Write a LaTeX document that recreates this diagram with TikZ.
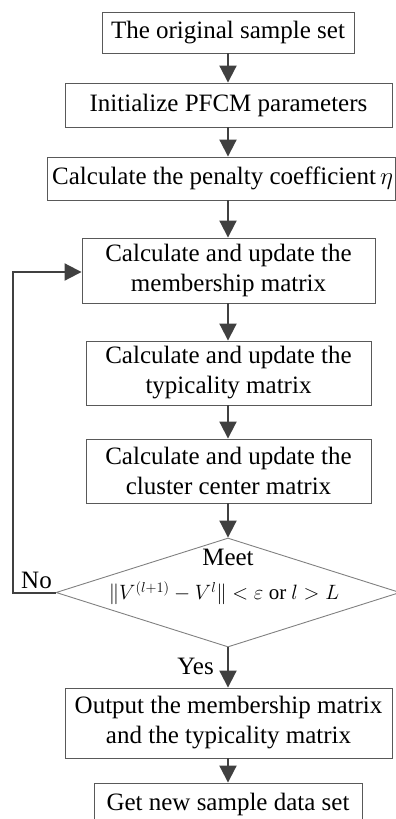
\documentclass[tikz,border=0pt]{standalone}
\usepackage{fontspec}
\setmainfont{Liberation Serif}
\usetikzlibrary{arrows.meta,shapes.geometric}
\begin{document}
\begin{tikzpicture}[x=1pt,y=1pt,
  box/.style={draw=black!65,line width=0.9pt,inner sep=0pt,align=center,font=\fontsize{25}{30}\selectfont},
  arr/.style={draw=black!75,line width=2pt,-{Triangle[length=17pt,width=17pt]}},
  lbl/.style={font=\fontsize{25}{28}\selectfont,inner sep=0pt}]
\useasboundingbox (0,0) rectangle (396,-819);
\node[box,minimum width=252pt,minimum height=41pt] (b1) at (228,-32.5) {The original sample set};
\node[box,minimum width=327pt,minimum height=44pt] (b2) at (228.5,-105) {Initialize PFCM parameters};
\node[draw=black!65,line width=0.9pt,minimum width=348pt,minimum height=43pt,inner sep=0pt] (b3) at (221.5,-178.5) {};
\node[lbl,anchor=west] (t3) at (52,-178.5) {Calculate the penalty coefficient\,${\eta}$};
\node[box,minimum width=293pt,minimum height=65pt] (b4) at (228.5,-270.5) {Calculate and update the\\membership matrix};
\node[box,minimum width=285pt,minimum height=64pt] (b5) at (228.5,-373) {Calculate and update the\\typicality matrix};
\node[box,minimum width=285pt,minimum height=64pt] (b6) at (228.5,-471) {Calculate and update the\\cluster center matrix};
\node[diamond,draw=black!50,line width=0.9pt,minimum width=344pt,minimum height=109pt,inner sep=0pt,aspect=3.15] (d) at (228,-592.5) {};
\node[lbl] (meet) at (228,-557) {Meet};
\node[font=\fontsize{21}{24}\selectfont,inner sep=0pt] (cond) at (224,-593) {$\big\Vert V^{(l+1)}-V^{l}\big\Vert<\varepsilon$ or $l>L$};
\node[box,minimum width=327pt,minimum height=70pt] (b7) at (228.5,-723) {Output the membership matrix\\and the typicality matrix};
\node[box,minimum width=268pt,minimum height=42pt] (b8) at (228,-804) {Get new sample data set};
\draw[arr] (b1.south -| 228,0) -- (b2.north -| 228,0);
\draw[arr] (b2.south -| 228,0) -- (b3.north -| 228,0);
\draw[arr] (b3.south -| 228,0) -- (b4.north -| 228,0);
\draw[arr] (b4.south -| 228,0) -- (b5.north -| 228,0);
\draw[arr] (b5.south -| 228,0) -- (b6.north -| 228,0);
\draw[arr] (b6.south -| 228,0) -- (d.north);
\draw[arr] (d.south) -- (b7.north -| 228,0);
\draw[arr] (b7.south -| 228,0) -- (b8.north -| 228,0);
\coordinate (lb) at (13,-592.5);
\coordinate (lt) at (13,-272);
\draw[arr] (d.west) -- (lb) -- (lt) -- (b4.west |- lt);
\node[lbl,anchor=south west] (no) at (21,-589) {No};
\node[lbl,anchor=east] (yes) at (214,-666) {Yes};
\end{tikzpicture}
\end{document}
